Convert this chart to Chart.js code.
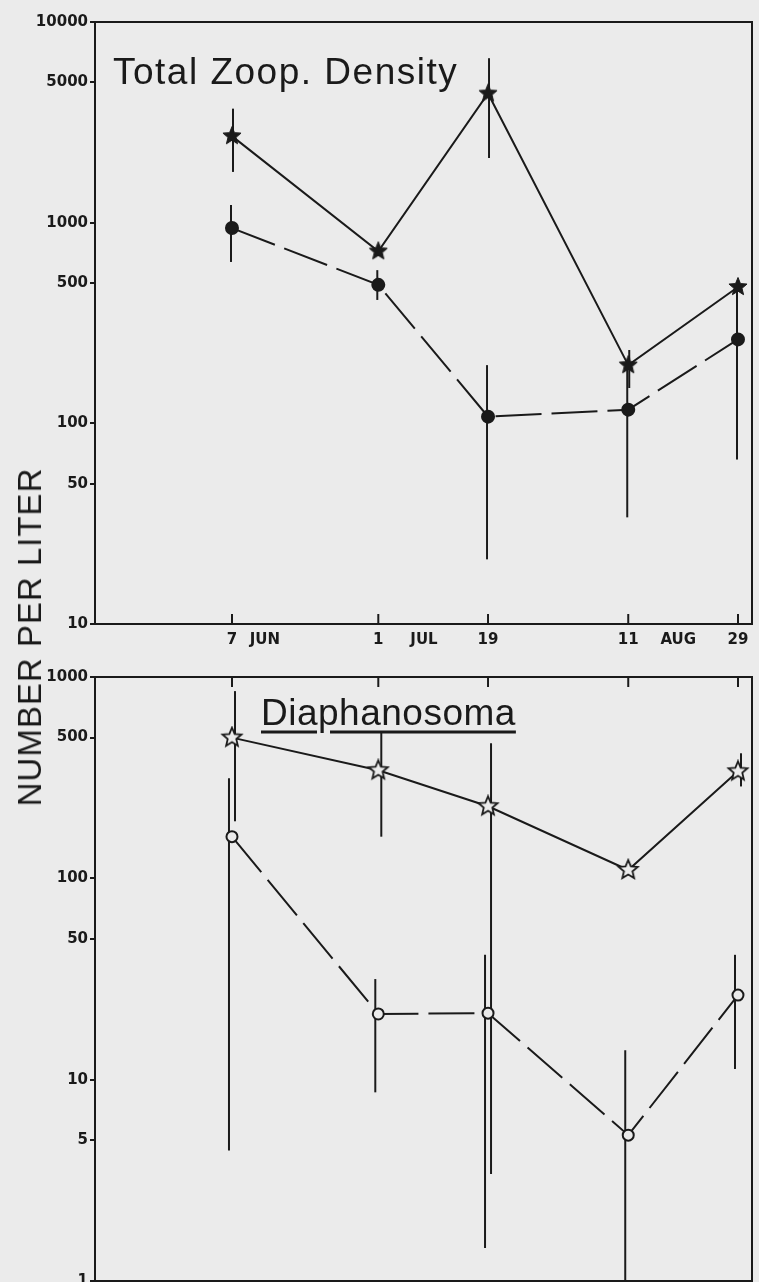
<!DOCTYPE html>
<html><head><meta charset="utf-8">
<script src="https://cdn.jsdelivr.net/npm/chart.js@4.4.1/dist/chart.umd.min.js"></script>
<style>
html,body{margin:0;padding:0;background:#ebebeb;}
#wrap{position:relative;width:759px;height:1282px;overflow:hidden;background:#ebebeb;}
#c1wrap{position:absolute;left:0;top:0;width:759px;height:652px;}
#c2wrap{position:absolute;left:0;top:652px;width:759px;height:640px;}
#ytitle{position:absolute;left:30px;top:637px;transform:translate(-50%,-50%) rotate(-90deg);font:33px "Liberation Sans";letter-spacing:1px;white-space:nowrap;color:#1a1a1a;}
</style></head>
<body><div id="wrap">
<div id="c1wrap"><canvas id="c1"></canvas></div>
<div id="c2wrap"><canvas id="c2"></canvas></div>
<div id="ytitle">NUMBER PER LITER</div>
</div>
<script>
// ---- data (days after 7 June) ----
const sampleDays = [0, 24, 42, 65, 83];
const xTickDays = [0, 24, 42, 65, 83];
const xTickLabels = ['7', '1', '19', '11', '29'];
const monthDays = [5.4, 31.5, 73.2];
const monthLabels = ['JUN', 'JUL', 'AUG'];
const topYTicks = [10, 50, 100, 500, 1000, 5000, 10000];
const bottomYTicks = [1, 5, 10, 50, 100, 500, 1000];

// Total zooplankton density
const totalStar = [2700, 720, 4400, 195, 478];
const totalStarLow = [1790, null, 2100, 150, null];
const totalStarHigh = [3700, null, 6600, 232, null];
const totalCircle = [940, 490, 108, 117, 262];
const totalCircleLow = [637, 412, 21, 34, 66];
const totalCircleHigh = [1225, 580, 195, 185, 455];

// Diaphanosoma
const diaStar = [500, 344, 228, 110, 340];
const diaStarLow = [192, 161, 3.4, null, 286];
const diaStarHigh = [851, 538, 469, null, 418];
const diaCircle = [161, 21.2, 21.4, 5.3, 26.3];
const diaCircleLow = [4.45, 8.65, 1.46, 1, 11.3];
const diaCircleHigh = [314, 31.6, 41.7, 14, 41.7];

// ---- styling ----
const INK = '#1a1a1a';
const PAPER = '#ebebeb';
Chart.defaults.font.family = '"DejaVu Sans"';
Chart.defaults.color = INK;

function makeStar(R, r, fill, stroke, lw) {
  const s = Math.ceil(2 * R + lw + 2);
  const c = document.createElement('canvas');
  c.width = s; c.height = s;
  const ctx = c.getContext('2d');
  ctx.beginPath();
  for (let i = 0; i < 10; i++) {
    const a = -Math.PI / 2 + i * Math.PI / 5;
    const rad = i % 2 ? r : R;
    ctx.lineTo(s / 2 + rad * Math.cos(a), s / 2 + rad * Math.sin(a));
  }
  ctx.closePath();
  if (fill) { ctx.fillStyle = fill; ctx.fill(); }
  if (stroke) { ctx.strokeStyle = stroke; ctx.lineWidth = lw; ctx.lineJoin = 'miter'; ctx.stroke(); }
  return c;
}
const solidStar = makeStar(9.5, 4.2, INK, INK, 1);
const openStar = makeStar(10, 4.5, PAPER, INK, 1.8);

function pts(vals) { return sampleDays.map((d, i) => ({ x: d, y: vals[i] })); }

const xTicksAll = xTickDays.map((v, i) => ({ value: v, label: xTickLabels[i] }))
  .concat(monthDays.map((v, i) => ({ value: v, label: monthLabels[i] })))
  .sort((a, b) => a.value - b.value);

const framePlugin = {
  id: 'frame',
  beforeDatasetsDraw(chart, args, opts) {
    const { ctx, chartArea: a, scales } = chart;
    ctx.save();
    ctx.strokeStyle = INK;
    ctx.lineWidth = 2;
    ctx.strokeRect(a.left, a.top, a.right - a.left, a.bottom - a.top);
    // inward x tick marks
    xTickDays.forEach(d => {
      const x = scales.x.getPixelForValue(d);
      ctx.beginPath();
      if (opts.side === 'bottom') { ctx.moveTo(x, a.bottom); ctx.lineTo(x, a.bottom - 10); }
      else { ctx.moveTo(x, a.top); ctx.lineTo(x, a.top + 10); }
      ctx.stroke();
    });
    // error bars
    chart.data.datasets.forEach(ds => {
      if (!ds.errLow) return;
      ds.data.forEach((p, i) => {
        const lo = ds.errLow[i], hi = ds.errHigh[i];
        if (lo == null || hi == null) return;
        const x = scales.x.getPixelForValue(p.x) + (ds.errShift || 0);
        const y1 = Math.min(scales.y.getPixelForValue(lo), a.bottom);
        const y2 = scales.y.getPixelForValue(hi);
        ctx.beginPath(); ctx.moveTo(x, y1); ctx.lineTo(x, y2); ctx.stroke();
      });
    });
    ctx.restore();
  },
  afterDraw(chart, args, opts) {
    if (!opts.title) return;
    const ctx = chart.ctx;
    ctx.save();
    ctx.fillStyle = INK;
    ctx.font = '37px "Liberation Sans"';
    ctx.textBaseline = 'alphabetic';
    ctx.textAlign = 'left';
    if ('letterSpacing' in ctx) ctx.letterSpacing = opts.spacing + 'px';
    ctx.fillText(opts.title, opts.tx, opts.ty);
    if (opts.underline) {
      const w = ctx.measureText(opts.title).width;
      const gapA = opts.tx + ctx.measureText('Dia').width - 1;
      const gapB = gapA + 13;
      ctx.strokeStyle = INK; ctx.lineWidth = 3;
      ctx.beginPath();
      ctx.moveTo(opts.tx, opts.ty + 7); ctx.lineTo(gapA, opts.ty + 7);
      ctx.moveTo(gapB, opts.ty + 7); ctx.lineTo(opts.tx + w, opts.ty + 7);
      ctx.stroke();
    }
    ctx.restore();
  }
};

function yScale(min, max, ticks) {
  return {
    type: 'logarithmic', min, max,
    afterBuildTicks: s => { s.ticks = ticks.map(v => ({ value: v })); },
    afterFit: s => { s.width = 95; },
    ticks: { autoSkip: false, padding: 2, color: INK, font: { size: 15, weight: 'bold' }, callback: v => String(v) },
    grid: { display: true, drawOnChartArea: false, drawTicks: true, tickLength: 5, color: INK, lineWidth: 2 },
    border: { display: false }
  };
}

function xScale(show) {
  return {
    type: 'linear', min: -22.47, max: 85.3, display: show,
    afterBuildTicks: s => { s.ticks = xTicksAll.map(t => ({ value: t.value, label: t.label })); },
    afterFit: s => { s.height = show ? 28 : 0; },
    ticks: { autoSkip: false, maxRotation: 0, padding: 7, color: INK, font: { size: 15, weight: 'bold' },
      callback: (v, i, t) => t[i].label },
    grid: { display: false, drawTicks: false },
    border: { display: false }
  };
}

function lineSet(vals, lo, hi, style, dashed, shift) {
  const base = {
    data: pts(vals), errLow: lo, errHigh: hi, errShift: shift,
    borderColor: INK, borderWidth: 2, tension: 0, fill: false,
    borderDash: dashed ? [46, 10] : [],
  };
  if (style === 'solidStar' || style === 'openStar') {
    base.pointStyle = style === 'solidStar' ? solidStar : openStar;
    base.pointRadius = 9;
  } else {
    base.pointStyle = 'circle';
    base.pointRadius = style === 'solidCircle' ? 6 : 5.5;
    base.pointBackgroundColor = style === 'solidCircle' ? INK : PAPER;
    base.pointBorderColor = INK;
    base.pointBorderWidth = 2;
  }
  return base;
}

const common = {
  responsive: true, maintainAspectRatio: false, animation: false, devicePixelRatio: 1,
  events: [],
};

new Chart(document.getElementById('c1'), {
  type: 'line',
  data: { datasets: [
    lineSet(totalCircle, totalCircleLow, totalCircleHigh, 'solidCircle', true, -1),
    lineSet(totalStar, totalStarLow, totalStarHigh, 'solidStar', false, 1),
  ] },
  options: Object.assign({}, common, {
    layout: { padding: { top: 22, right: 7, left: 0, bottom: 0 }, autoPadding: false },
    scales: { x: xScale(true), y: yScale(10, 10000, topYTicks) },
    plugins: { legend: { display: false }, tooltip: { enabled: false },
      frame: { side: 'bottom', title: 'Total Zoop. Density', tx: 113, ty: 84, spacing: 1.5, underline: false } }
  }),
  plugins: [framePlugin]
});

new Chart(document.getElementById('c2'), {
  type: 'line',
  data: { datasets: [
    lineSet(diaCircle, diaCircleLow, diaCircleHigh, 'openCircle', true, -3),
    lineSet(diaStar, diaStarLow, diaStarHigh, 'openStar', false, 3),
  ] },
  options: Object.assign({}, common, {
    layout: { padding: { top: 25, right: 7, left: 0, bottom: 2 }, autoPadding: false },
    scales: { x: xScale(false), y: yScale(1, 1000, bottomYTicks) },
    plugins: { legend: { display: false }, tooltip: { enabled: false },
      frame: { side: 'top', title: 'Diaphanosoma', tx: 261, ty: 73, spacing: 0.5, underline: true } }
  }),
  plugins: [framePlugin]
});
</script>
</body></html>
